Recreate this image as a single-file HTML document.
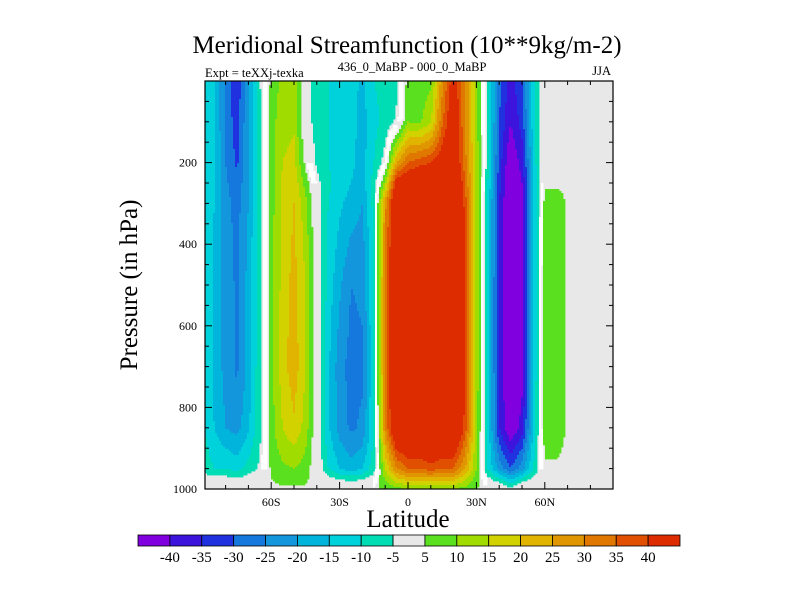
<!DOCTYPE html>
<html><head><meta charset="utf-8"><style>
body{margin:0;background:#fff;}
svg{display:block;font-family:"Liberation Serif",serif;}
</style></head><body>
<svg id="chart" width="800" height="600" viewBox="0 0 800 600">
<g id="field"></g>
<g id="axes"></g>
<text x="407" y="53" font-size="25" text-anchor="middle">Meridional Streamfunction (10**9kg/m-2)</text>
<text x="205" y="77" font-size="12.5">Expt = teXXj-texka</text>
<text x="412" y="71" font-size="12.5" text-anchor="middle">436_0_MaBP - 000_0_MaBP</text>
<text x="611" y="75" font-size="12.5" text-anchor="end">JJA</text>
<text transform="translate(137,285) rotate(-90)" font-size="25" text-anchor="middle">Pressure (in hPa)</text>
<text x="408" y="527" font-size="25" text-anchor="middle">Latitude</text>
<g id="cbar"></g>
</svg>
<script>
const lats = [-90,-85,-80,-75,-70,-65,-60,-55,-50,-45,-40,-35,-30,-25,-20,-15,-10,-5,0,5,10,15,20,25,30,35,40,45,50,55,60,65,70,75,80,85,90];
const levels = [0,100,200,250,300,500,700,850,950,1000];
// values per latitude column, top (0 hPa) to bottom (1000 hPa)
const psi = [
[-9,-9,-9,-9,-9,-9,-9,-9,-7,4],
[-14,-14,-14,-14,-15,-16,-16,-15,-10,4],
[-26,-26,-25,-24,-23,-22,-22,-20,-10,4],
[-34,-33,-31,-29,-27,-26,-26,-22,-12,4],
[-20,-20,-20,-20,-20,-18,-18,-16,-8,4],
[-5,-6,-6,-6,-6,-6,-6,-6,-4,4],
[6,8,8,8,8,8,8,8,6,4],
[12,13,15,16,16,17,18,15,9,4],
[13,14,17,19,20,22,23,19,10,4],
[-2,-1,3,8,12,15,15,13,8,4],
[-8,-8,-6,-3,-1,0,0,0,0,4],
[-10,-10,-10,-9,-10,-12,-14,-14,-10,4],
[-12,-12,-12,-12,-14,-19,-23,-22,-15,4],
[-13,-13,-14,-15,-17,-25,-27,-26,-18,4],
[-16,-17,-17,-17,-20,-24,-26,-24,-15,4],
[-10,-12,-10,-8,-8,-10,-10,-10,-7,4],
[-8,-8,-2,12,28,32,32,30,15,6],
[-6,-4,25,45,52,55,55,52,30,8],
[7,10,35,48,56,60,60,55,35,10],
[7,9,38,50,60,60,60,55,35,10],
[9,14,40,52,60,60,60,55,38,10],
[28,34,45,52,60,60,60,55,35,10],
[45,48,50,55,60,60,60,55,35,10],
[30,30,32,35,38,40,40,38,25,8],
[12,12,14,14,14,14,14,13,10,5],
[-8,-8,-8,-10,-12,-12,-12,-12,-10,4],
[-28,-30,-32,-33,-35,-36,-36,-35,-22,4],
[-38,-40,-45,-47,-48,-48,-48,-45,-30,-3],
[-30,-33,-38,-40,-42,-42,-42,-38,-22,4],
[-12,-12,-14,-15,-16,-16,-16,-14,-10,4],
[4,4,4,4,7,9,9,8,4,4],
[4,4,4,4,8,9,9,8,4,4],
[4,4,4,4,4,4,4,4,4,4],
[4,4,4,4,4,4,4,4,4,4],
[4,4,4,4,4,4,4,4,4,4],
[4,4,4,4,4,4,4,4,4,4],
[4,4,4,4,4,4,4,4,4,4]];
const contourLevels = [-40,-35,-30,-25,-20,-15,-10,-5,5,10,15,20,25,30,35,40];
const binColors = ["#8000e0","#3c14dc","#2032e0","#1478dc","#1496dc","#00b4dc","#00d2dc","#00dcb4","#e8e8e8","#5ae01e","#a0dc00","#d2d200","#e0b400","#e09600","#e07800","#e05000","#dc2c00"];
const xTickVals = [-60,-30,0,30,60];
const xTickLabels = ["60S","30S","0","30N","60N"];
const yTickVals = [200,400,600,800,1000];

const NS="http://www.w3.org/2000/svg";
const L=205,R=613,T=81,B=489;
const xs = lat => 408 + lat*2.28;
const ys = p => T + p*(B-T)/1000;
const xinv = x => (x-408)/2.28;
const yinv = y => (y-T)*1000/(B-T);
function mk(tag,attrs,parent){const e=document.createElementNS(NS,tag);for(const k in attrs)e.setAttribute(k,attrs[k]);parent.appendChild(e);return e;}
function sample(lat,p){
  let i=0;while(i<lats.length-2&&lats[i+1]<lat)i++;
  let j=0;while(j<levels.length-2&&levels[j+1]<p)j++;
  let tx=(lat-lats[i])/(lats[i+1]-lats[i]);tx=Math.max(0,Math.min(1,tx));
  let ty=(p-levels[j])/(levels[j+1]-levels[j]);ty=Math.max(0,Math.min(1,ty));
  const a=psi[i][j],b=psi[i+1][j],c=psi[i][j+1],d=psi[i+1][j+1];
  const v=(a*(1-tx)+b*tx)*(1-ty)+(c*(1-tx)+d*tx)*ty;
  const mn=Math.min(a,b,c,d),mx=Math.max(a,b,c,d);
  return {v,mn,mx};
}
function colorOf(s){
  if(Math.abs(s.v)<2.5 && s.mn<-5 && s.mx>5) return "#ffffff";
  let k=0;while(k<contourLevels.length&&s.v>=contourLevels[k])k++;
  return binColors[k];
}
const field=document.getElementById('field');
mk('rect',{x:L,y:T,width:R-L,height:B-T,fill:'#e8e8e8'},field);
const step=2;
for(let y=T;y<B;y+=step){
  const p=yinv(y+step/2);
  let runStart=L,runCol=null;
  for(let x=L;x<=R;x+=step){
    const col = x<R ? colorOf(sample(xinv(x+step/2),p)) : null;
    if(col!==runCol){
      if(runCol!==null && runCol!=="#e8e8e8"){
        const r=mk('rect',{x:runStart,y:y,width:Math.min(x,R)-runStart+0.4,height:Math.min(step+0.4,B-y),fill:runCol},field);
        
        
      }
      runStart=x;runCol=col;
    }
  }
}
const ax=document.getElementById('axes');
mk('rect',{x:L,y:T,width:R-L,height:B-T,fill:'none',stroke:'#000','stroke-width':1.2},ax);
for(let lat=-80;lat<=80;lat+=10){
  const x=xs(lat);const len=(lat%30===0)?7:4;
  mk('line',{x1:x,y1:B,x2:x,y2:B-len,stroke:'#000'},ax);
  mk('line',{x1:x,y1:T,x2:x,y2:T+len,stroke:'#000'},ax);
}
xTickVals.forEach((v,i)=>{
  const t=mk('text',{x:xs(v),y:506,'font-size':12,'text-anchor':'middle'},ax);t.textContent=xTickLabels[i];
  
  
});
for(let p=50;p<1000;p+=50){
  const y=ys(p);const len=(p%200===0)?7:4;
  mk('line',{x1:L,y1:y,x2:L+len,y2:y,stroke:'#000'},ax);
  mk('line',{x1:R,y1:y,x2:R-len,y2:y,stroke:'#000'},ax);
}
yTickVals.forEach(v=>{
  const t=mk('text',{x:197,y:ys(v)+4,'font-size':12,'text-anchor':'end'},ax);t.textContent=v;
  
  
});
const cb=document.getElementById('cbar');
const cx0=138,cx1=680,cw=(cx1-cx0)/binColors.length;
binColors.forEach((c,i)=>{
  const r=mk('rect',{x:cx0+i*cw,y:535,width:cw,height:11,fill:c,stroke:'#000','stroke-width':0.8},cb);
  
  
});
contourLevels.forEach((v,i)=>{
  const t=mk('text',{x:cx0+(i+1)*cw,y:562,'font-size':15,'text-anchor':'middle'},cb);t.textContent=v;
  
  
});
</script>
</body></html>
